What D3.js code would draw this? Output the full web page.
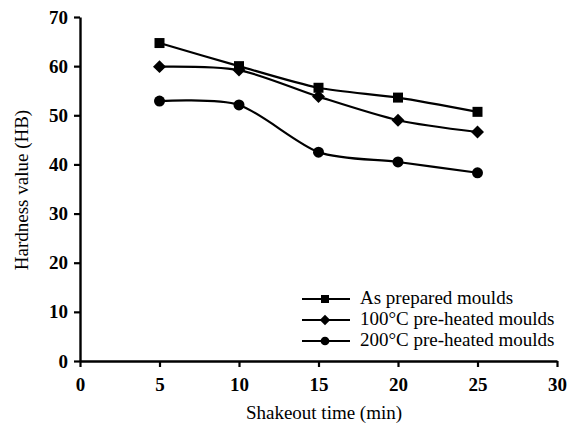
<!DOCTYPE html>
<html><head><meta charset="utf-8">
<script src="https://cdn.jsdelivr.net/npm/d3@7"></script>
<style>body{margin:0;background:#fff}svg{display:block}</style>
</head><body>
<svg id="c" width="572" height="427"></svg>
<script>
const times = [5, 10, 15, 20, 25];
const asPrepared = [64.7, 60.0, 55.6, 53.6, 50.7];
const preheat100 = [59.9, 59.2, 53.8, 49.0, 46.6];
const preheat200 = [52.9, 52.1, 42.5, 40.5, 38.3];
const seriesNames = ["As prepared moulds", "100°C pre-heated moulds", "200°C pre-heated moulds"];
const xTicks = [0, 5, 10, 15, 20, 25, 30];
const yTicks = [0, 10, 20, 30, 40, 50, 60, 70];

// wide diamond (rotated square)
const symbolWideDiamond = {
  draw(ctx, size) {
    const r = Math.sqrt(size / 2);
    ctx.moveTo(0, -r); ctx.lineTo(r, 0); ctx.lineTo(0, r); ctx.lineTo(-r, 0); ctx.closePath();
  }
};

const series = [
  {name: seriesNames[0], values: asPrepared, shape: d3.symbolSquare, size: 100, lsize: 64},
  {name: seriesNames[1], values: preheat100, shape: symbolWideDiamond, size: 84, lsize: 56},
  {name: seriesNames[2], values: preheat200, shape: d3.symbolCircle, size: 95, lsize: 60}
];

const svg = d3.select("#c");
const x = d3.scaleLinear().domain([0, 30]).range([80, 557]);
const y = d3.scaleLinear().domain([0, 70]).range([361, 17]);

const font = "'Liberation Serif','Times New Roman',serif";

const xAxis = svg.append("g").attr("transform", "translate(0,361)")
  .call(d3.axisBottom(x).tickValues(xTicks).tickSize(6).tickSizeOuter(0).tickPadding(11));
const yAxis = svg.append("g").attr("transform", "translate(80,0)")
  .call(d3.axisLeft(y).tickValues(yTicks).tickSize(6).tickSizeOuter(0).tickPadding(6));
[xAxis, yAxis].forEach(a => {
  a.select(".domain").attr("stroke", "#000").attr("stroke-width", 2.4);
  a.selectAll(".tick line").attr("stroke", "#000").attr("stroke-width", 2.2);
  a.selectAll(".tick text").attr("font-family", font).attr("font-size", 19)
    .attr("font-weight", "bold").attr("fill", "#000");
});

const line = d3.line().x((d, i) => x(times[i])).y(d => y(d)).curve(d3.curveCardinal.tension(0.2));

series.forEach(s => {
  svg.append("path").datum(s.values).attr("d", line)
    .attr("fill", "none").attr("stroke", "#000").attr("stroke-width", 2.2);
  svg.selectAll(null).data(s.values).enter().append("path")
    .attr("d", d3.symbol().type(s.shape).size(s.size))
    .attr("transform", (d, i) => `translate(${x(times[i])},${y(d)})`)
    .attr("fill", "#000");
});

// legend
const lg = svg.append("g");
series.forEach((s, i) => {
  const yy = 299 + i * 21;
  lg.append("line").attr("x1", 302).attr("x2", 350).attr("y1", yy).attr("y2", yy)
    .attr("stroke", "#000").attr("stroke-width", 2.2);
  lg.append("path").attr("d", d3.symbol().type(s.shape).size(s.lsize))
    .attr("transform", `translate(325,${yy})`).attr("fill", "#000");
  lg.append("text").attr("x", 360).attr("y", yy + 5).text(s.name)
    .attr("font-family", font).attr("font-size", 19).attr("fill", "#000");
});

svg.append("text").attr("x", 324).attr("y", 419).attr("text-anchor", "middle")
  .attr("font-family", font).attr("font-size", 19).text("Shakeout time (min)");
svg.append("text").attr("transform", "translate(28,190) rotate(-90)").attr("text-anchor", "middle")
  .attr("font-family", font).attr("font-size", 19).text("Hardness value (HB)");
</script>
</body></html>
